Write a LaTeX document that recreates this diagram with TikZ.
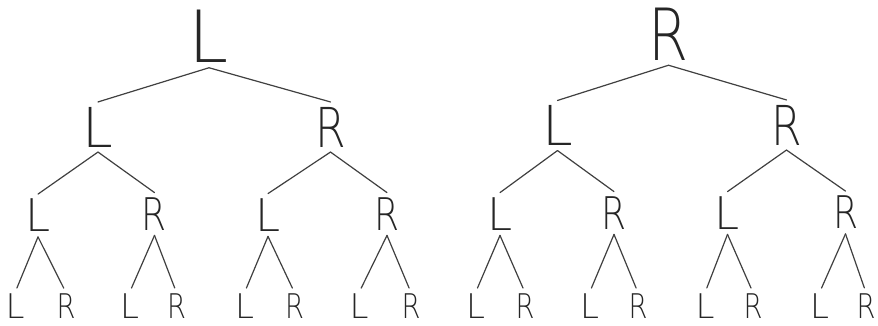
\documentclass[tikz,border=0pt]{standalone}
\usepackage{fontspec}
\newfontfamily\lfam{DejaVu Sans ExtraLight}
\newfontfamily\rfam[FakeStretch=0.8]{DejaVu Sans ExtraLight}
\newcommand\LL{{\lfam L}}
\newcommand\RR{{\rfam R}}
\tikzset{
  lbl/.style={inner sep=5pt, outer sep=0pt, text=black!85},
  lv0/.style={lbl, font=\fontsize{72}{72}\selectfont},
  lv1/.style={lbl, font=\fontsize{55}{55}\selectfont},
  lv2/.style={lbl, font=\fontsize{45}{45}\selectfont},
  lv3/.style={lbl, inner sep=1pt, font=\fontsize{34}{34}\selectfont},
  edge/.style={draw=black!75, line width=1.2pt, line cap=round},
  leafedge/.style={edge, shorten >=5pt}
}
\begin{document}
\begin{tikzpicture}[x=1pt,y=-1pt]
\useasboundingbox[fill=white] (0,0) rectangle (878,326);
% left tree
\node[lv0] (a) at (209,36.5) {\LL};
\node[lv1] (aL) at (98,127) {\LL};
\node[lv1] (aR) at (330.5,127) {\RR};
\node[lv2] (aLL) at (38,215.5) {\LL};
\node[lv2] (aLR) at (154.5,214) {\RR};
\node[lv2] (aRL) at (268,215) {\LL};
\node[lv2] (aRR) at (387,214) {\RR};
\node[lv3] (aLLL) at (15,306) {\LL};
\node[lv3] (aLLR) at (66,306) {\RR};
\node[lv3] (aLRL) at (129.5,306) {\LL};
\node[lv3] (aLRR) at (176.5,306) {\RR};
\node[lv3] (aRLL) at (244.5,306) {\LL};
\node[lv3] (aRLR) at (294.5,306) {\RR};
\node[lv3] (aRRL) at (359,306) {\LL};
\node[lv3] (aRRR) at (411,306) {\RR};
% right tree
\node[lv0] (b) at (668.5,34) {\RR};
\node[lv1] (bL) at (557.5,125.5) {\LL};
\node[lv1] (bR) at (786.5,125) {\RR};
\node[lv2] (bLL) at (500,214) {\LL};
\node[lv2] (bLR) at (614,213) {\RR};
\node[lv2] (bRL) at (727.5,213) {\LL};
\node[lv2] (bRR) at (845.5,212.5) {\RR};
\node[lv3] (bLLL) at (475.5,306) {\LL};
\node[lv3] (bLLR) at (525,306) {\RR};
\node[lv3] (bLRL) at (589.5,306) {\LL};
\node[lv3] (bLRR) at (638,306) {\RR};
\node[lv3] (bRLL) at (705,306) {\LL};
\node[lv3] (bRLR) at (753,306) {\RR};
\node[lv3] (bRRL) at (819.5,306) {\LL};
\node[lv3] (bRRR) at (866,306) {\RR};
% edges
\foreach \t in {a,b}{
  \draw[edge] (\t.south) -- (\t L.north);
  \draw[edge] (\t.south) -- (\t R.north);
  \foreach \p in {L,R}{
    \draw[edge] (\t\p.south) -- (\t\p L.north);
    \draw[edge] (\t\p.south) -- (\t\p R.north);
    \foreach \q in {L,R}{
      \draw[leafedge] (\t\p\q.south) -- (\t\p\q L.north);
      \draw[leafedge] (\t\p\q.south) -- (\t\p\q R.north);
    }
  }
}
\end{tikzpicture}
\end{document}
